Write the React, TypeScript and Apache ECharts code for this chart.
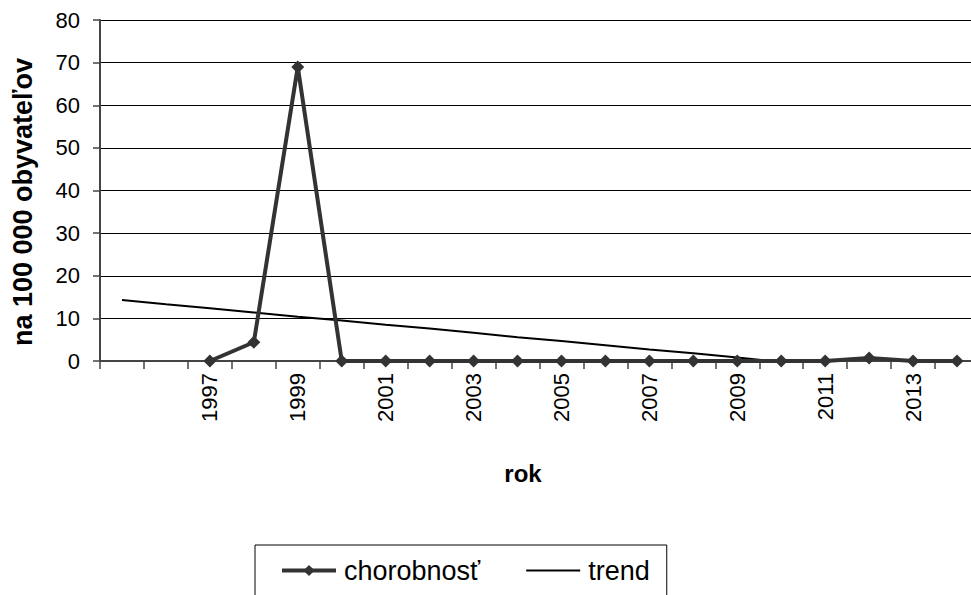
import React, { useEffect, useRef } from "react";
import * as echarts from "echarts";

const categories = ["", "", "1997", "1998", "1999", "2000", "2001", "2002", "2003", "2004", "2005", "2006", "2007", "2008", "2009", "2010", "2011", "2012", "2013", "2014"];
const incidence = [null, null, 0, 4.4, 69, 0, 0, 0, 0, 0, 0, 0, 0, 0, 0, 0, 0, 0.7, 0, 0];
const trend = [14.3, 13.3, 12.4, 11.4, 10.4, 9.5, 8.5, 7.6, 6.6, 5.6, 4.7, 3.7, 2.7, 1.8, 0.8, -0.2, -1.1, -2.1, -3.1, -4.0];
const yTicks = { min: 0, max: 80, interval: 10 };
const seriesNames = ["chorobnosť", "trend"];
const yAxisTitle = "na 100 000 obyvateľov";
const xAxisTitle = "rok";

const FONT = "Liberation Sans, Arial, sans-serif";

export default function App() {
  const ref = useRef<HTMLDivElement>(null);
  useEffect(() => {
    if (!ref.current) return;
    const chart = echarts.init(ref.current, undefined, { renderer: "svg" });
    chart.setOption({
      animation: false,
      backgroundColor: "#ffffff",
      textStyle: { fontFamily: FONT },
      grid: { left: 100, top: 20, width: 879, height: 341, outerBoundsMode: "none", containLabel: false },
      xAxis: {
        type: "category",
        data: categories,
        boundaryGap: true,
        axisLine: { lineStyle: { color: "#444", width: 2 } },
        axisTick: { show: true, length: 8, alignWithLabel: false, interval: 0, lineStyle: { color: "#444", width: 1.5 } },
        axisLabel: { interval: 1, rotate: 90, margin: 12, fontSize: 22, color: "#000", fontFamily: FONT },
        splitLine: { show: false },
      },
      yAxis: {
        type: "value",
        min: yTicks.min,
        max: yTicks.max,
        interval: yTicks.interval,
        axisLine: { show: true, lineStyle: { color: "#444", width: 2 } },
        axisTick: { show: true, length: 7, lineStyle: { color: "#444", width: 1.5 } },
        axisLabel: { margin: 20, fontSize: 22, color: "#000", fontFamily: FONT },
        splitLine: { show: true, lineStyle: { color: "#000", width: 1 } },
      },
      legend: {
        left: 255,
        top: 545,
        padding: [12, 17, 20, 25],
        borderColor: "#000",
        borderWidth: 1,
        itemWidth: 54,
        itemHeight: 14,
        itemGap: 45,
        data: [
          { name: seriesNames[0], lineStyle: { color: "#333", width: 4 }, itemStyle: { color: "#333" } },
          { name: seriesNames[1], lineStyle: { color: "#000", width: 2 }, itemStyle: { color: "rgba(0,0,0,0)", borderWidth: 0, opacity: 0 } },
        ],
        textStyle: { fontSize: 27, color: "#000", fontFamily: FONT, padding: [0, 0, 0, 3] },
      },
      graphic: [
        {
          type: "text",
          x: 23,
          y: 202,
          rotation: Math.PI / 2,
          style: { text: yAxisTitle, font: `bold 27px ${FONT}`, fill: "#000", textAlign: "center", textVerticalAlign: "middle" },
        },
        {
          type: "text",
          x: 523,
          y: 473,
          style: { text: xAxisTitle, font: `bold 24px ${FONT}`, fill: "#000", textAlign: "center", textVerticalAlign: "middle" },
        },
      ],
      series: [
        {
          name: seriesNames[0],
          type: "line",
          data: incidence,
          symbol: "diamond",
          symbolSize: 13,
          lineStyle: { color: "#333", width: 4 },
          itemStyle: { color: "#333" },
          z: 3,
        },
        {
          name: seriesNames[1],
          type: "line",
          data: trend,
          symbol: "none",
          clip: true,
          lineStyle: { color: "#000", width: 2 },
          itemStyle: { color: "#000" },
          z: 2,
        },
      ],
    });
    return () => chart.dispose();
  }, []);
  return <div ref={ref} style={{ width: 971, height: 595, position: "absolute", left: 0, top: 0 }} />;
}
